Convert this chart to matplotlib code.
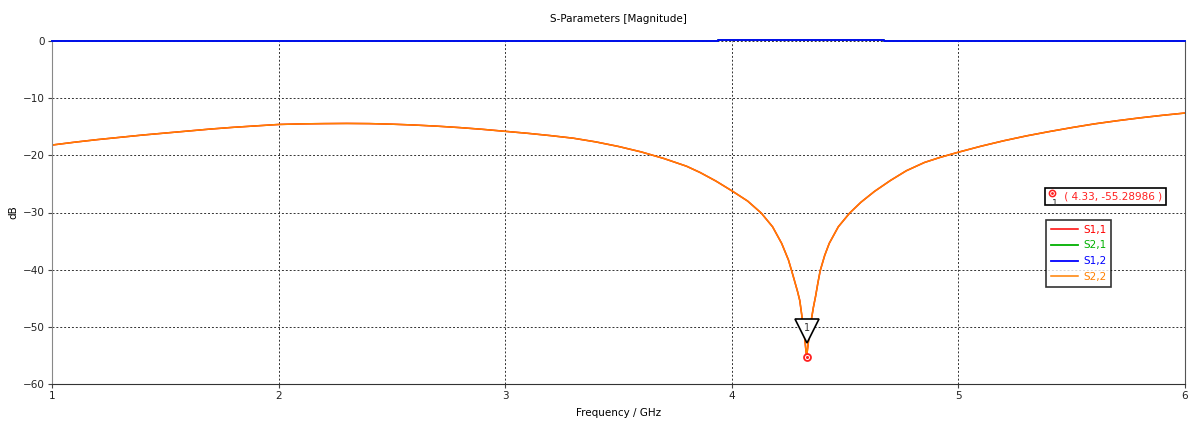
import matplotlib
matplotlib.use('Agg')
import matplotlib.pyplot as plt
from matplotlib.transforms import offset_copy

plt.rcParams['font.family'] = ['DejaVu Sans']
plt.rcParams['font.size'] = 7.5

# S2,2 (and S1,1) magnitude in dB
freq = [1.0, 1.1, 1.2, 1.3, 1.4, 1.5, 1.6, 1.7, 1.8, 1.9, 2.0, 2.1, 2.2, 2.3,
        2.4, 2.5, 2.6, 2.7, 2.8, 2.9, 3.0, 3.1, 3.2, 3.3, 3.4, 3.5, 3.6, 3.7,
        3.8, 3.86, 3.93, 4.0, 4.07, 4.13, 4.18, 4.22, 4.25, 4.27, 4.29, 4.30,
        4.31, 4.32, 4.33, 4.34, 4.35, 4.36, 4.37, 4.38, 4.39, 4.41, 4.43,
        4.47, 4.52, 4.57, 4.63, 4.70, 4.77, 4.85, 4.92, 5.0, 5.1, 5.2, 5.3,
        5.4, 5.5, 5.6, 5.7, 5.8, 5.9, 6.0]
s22 = [-18.2, -17.7, -17.25, -16.85, -16.45, -16.1, -15.75, -15.4, -15.1,
       -14.85, -14.6, -14.5, -14.45, -14.42, -14.45, -14.55, -14.7, -14.9,
       -15.15, -15.45, -15.8, -16.15, -16.55, -17.0, -17.65, -18.45, -19.4,
       -20.55, -21.9, -23.0, -24.5, -26.2, -28.0, -30.1, -32.5, -35.4, -38.3,
       -41.0, -43.8, -45.4, -48.3, -51.3, -55.29, -52.0, -49.0, -46.6,
       -44.6, -42.3, -40.2, -37.5, -35.4, -32.5, -30.1, -28.2, -26.3, -24.4,
       -22.7, -21.25, -20.35, -19.45, -18.4, -17.45, -16.6, -15.85, -15.15,
       -14.5, -13.95, -13.45, -13.0, -12.6]
s11 = s22

# transmission, almost 0 dB
freq_t = [1.0, 3.94, 3.94, 4.67, 4.67, 6.0]
s21 = [0.0, 0.0, 0.12, 0.12, 0.0, 0.0]
s12 = s21

marker_f = 4.33
marker_db = -55.28986

fig = plt.figure(figsize=(11.89, 4.24), dpi=100)
ax = fig.add_axes([52 / 1189, 40 / 424, 1133 / 1189, 343 / 424])

ax.plot(freq, s11, color='#ff0000', lw=1.1, label='S1,1')
ax.plot(freq_t, s21, color='#00b000', lw=1.3, label='S2,1', clip_on=False,
        zorder=4)
ax.plot(freq_t, s12, color='#0000ff', lw=1.3, label='S1,2', clip_on=False,
        zorder=4)
ax.plot(freq, s22, color='#ff8000', lw=1.1, label='S2,2')

ax.set_xlim(1, 6)
ax.set_ylim(-60, 0)
ax.set_xticks([1, 2, 3, 4, 5, 6])
ax.set_yticks([0, -10, -20, -30, -40, -50, -60])
ax.grid(True, color='#333333', linestyle=(0, (2, 2)), lw=0.7)
ax.tick_params(length=3, width=0.8, color='#444444', pad=2, labelcolor='#222222')
ax.spines['top'].set_visible(False)
ax.spines['left'].set_color('#888888')
ax.spines['right'].set_color('#555555')
ax.spines['bottom'].set_color('#333333')

ax.set_title('S-Parameters [Magnitude]', fontsize=7.5, pad=14)
ax.set_xlabel('Frequency / GHz', fontsize=7.5)
ax.set_ylabel('dB', fontsize=7.5)
ax.xaxis.set_label_coords(0.5, -0.085)
ax.yaxis.set_label_coords(-0.034, 0.5)
ax.xaxis.label.set_va('center')
ax.yaxis.label.set_va('center')

# marker 1
tri = offset_copy(ax.transData, fig=fig, x=0, y=18.5, units='points')
ax.plot([marker_f], [marker_db], marker='v', ms=17, mfc='white', mec='black',
        mew=1.2, transform=tri, zorder=5, clip_on=False)
ax.annotate('1', (marker_f, marker_db), xytext=(0, 21), textcoords='offset points',
            ha='center', va='center', fontsize=7, color='#333333', zorder=6)
ax.plot([marker_f], [marker_db], marker='o', ms=5, mfc='white', mec='#ff2020',
        mew=1.3, zorder=6, clip_on=False)
ax.plot([marker_f], [marker_db], marker='o', ms=1.2, color='#ff2020', zorder=7,
        clip_on=False)

# marker readout box
ax.text(0.8795, 0.546, '     ( %.2f, %.5f )' % (marker_f, marker_db),
        transform=ax.transAxes, color='#ff2020', fontsize=7.5, va='center',
        ha='left',
        bbox=dict(boxstyle='square,pad=0.35', fc='white', ec='black', lw=1.2))
ax.plot([0.8826], [0.556], marker='o', ms=4.5, mfc='white', mec='#ff2020',
        mew=1.1, transform=ax.transAxes, zorder=8)
ax.plot([0.8826], [0.556], marker='o', ms=1, color='#ff2020',
        transform=ax.transAxes, zorder=9)
ax.text(0.8848, 0.527, '1', transform=ax.transAxes, fontsize=6.5,
        color='#333333', ha='center', va='center', zorder=9)

leg = ax.legend(loc='upper left', bbox_to_anchor=(0.8775, 0.478), fontsize=7.5,
                frameon=True, fancybox=False, edgecolor='black',
                handlelength=2.6, handletextpad=0.5, borderpad=0.45,
                labelspacing=0.55, labelcolor='linecolor', borderaxespad=0)
leg.get_frame().set_linewidth(1.2)

fig.savefig('out.png', dpi=100)
